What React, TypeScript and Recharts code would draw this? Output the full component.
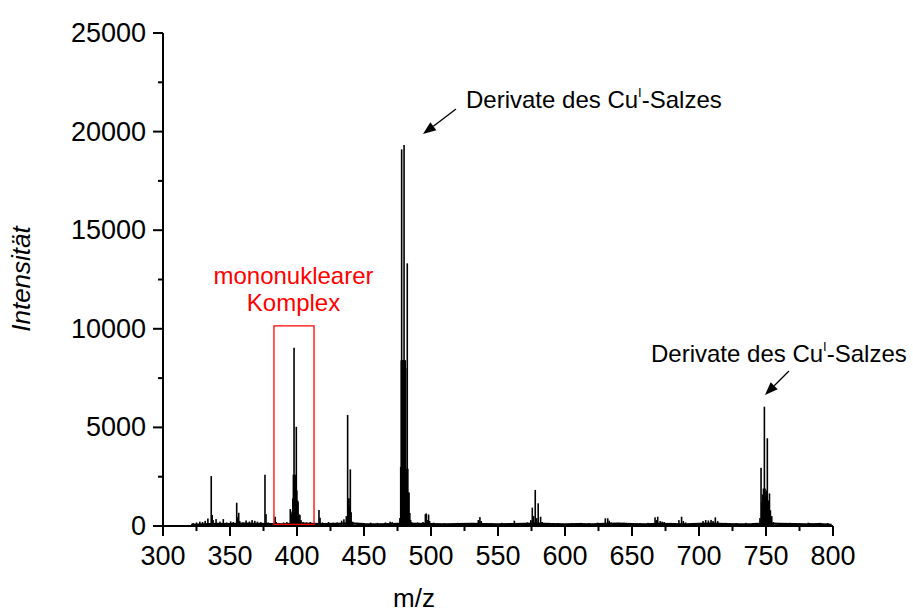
import React from "react";
import {
  ComposedChart,
  Bar,
  Line,
  XAxis,
  YAxis,
  ReferenceArea,
} from "recharts";

// m/z ticks (every 25, labelled every 50) and intensity ticks (every 2500, labelled every 5000)
const xTicks = [300, 325, 350, 375, 400, 425, 450, 475, 500, 525, 550, 575, 600, 625, 650, 675, 700, 725, 750, 775, 800];
const yTicks = [0, 2500, 5000, 7500, 10000, 12500, 15000, 17500, 20000, 22500, 25000];

// noisy baseline under the spectrum: [m/z, intensity]
const baseline: [number, number][] = [
  [321, 60], [330, 90], [340, 110], [350, 100], [360, 120], [370, 110], [380, 100], [390, 90],
  [400, 130], [410, 110], [420, 100], [430, 110], [440, 130], [450, 100], [460, 90], [470, 100],
  [480, 120], [490, 110], [500, 100], [510, 90], [520, 100], [530, 110], [540, 100], [550, 90],
  [560, 100], [570, 110], [580, 120], [590, 100], [600, 90], [610, 100], [620, 90], [630, 110],
  [640, 120], [650, 100], [660, 90], [670, 110], [680, 100], [690, 90], [700, 110], [710, 120],
  [720, 100], [730, 90], [740, 100], [750, 130], [760, 110], [770, 100], [780, 90], [790, 100], [799, 60],
];

const lowMassPeaks: [number, number][] = [
  [322.5, 150], [325, 180], [327.5, 220], [329.5, 200], [331.5, 260], [333.5, 380], [336.0, 2530],
  [336.7, 560], [337.4, 300], [339.6, 350], [342.5, 220], [345.0, 350], [347.5, 180], [350.5, 230],
  [352.5, 200], [355.0, 1180], [355.6, 450], [356.5, 670], [357.3, 250], [359.5, 180], [362.0, 280],
  [364.5, 230], [366.5, 300], [368.5, 260], [370.5, 220], [373.0, 200], [376.1, 2600], [376.9, 600],
  [378.5, 180],
];

const complexPeaks: [number, number][] = [
  [383.7, 470], [384.5, 200], [387, 150], [390, 180], [392.5, 200], [395.0, 860], [395.7, 600],
  [396.3, 730], [396.9, 1400], [397.3, 2600], [397.8, 9040], [398.2, 2600], [398.6, 2600],
  [399.0, 2000], [399.5, 5030], [399.9, 1800], [400.4, 1300], [400.8, 1230], [401.4, 600],
  [402.2, 560], [403.0, 300], [404.5, 200], [407, 180], [410, 200],
];

const midPeaks: [number, number][] = [
  [416.4, 810], [417.2, 420], [419, 180], [423.6, 200], [427, 170], [430, 180], [433.3, 270],
  [435.0, 340], [436.8, 500], [437.8, 5630], [438.3, 1400], [438.8, 1400], [439.3, 1000],
  [439.8, 2870], [440.4, 700], [441.6, 220], [445, 160], [450, 150], [455, 170], [460, 160],
  [466, 180], [469.5, 220], [471, 200],
];

const cuSaltPeaks480: [number, number][] = [
  [476.8, 400], [477.4, 3000], [477.8, 8400], [478.1, 19100], [478.4, 8400], [478.7, 8400],
  [479.0, 8400], [479.3, 8400], [479.6, 8400], [479.9, 19320], [480.2, 8400], [480.5, 8400],
  [480.8, 8400], [481.1, 8000], [481.5, 2900], [481.9, 2400], [482.3, 13320], [482.7, 2900],
  [483.1, 1700], [483.6, 1700], [484.2, 660], [484.8, 300], [485.5, 200],
];

const upperPeaks: [number, number][] = [
  [490, 180], [494, 200], [495.8, 600], [496.5, 640], [497.3, 300], [498.2, 580], [499, 250],
  [502, 170], [510, 150], [520, 160], [528, 150], [535.3, 300], [536.5, 450], [537.5, 250],
  [545, 150], [553, 160], [562.2, 270], [566, 150], [572, 180], [574.5, 300], [575.6, 930],
  [576.6, 500], [577.8, 1830], [578.9, 400], [580.0, 1150], [581.8, 470], [583, 200], [588, 160],
  [595, 150], [605, 150], [612, 160], [618, 150], [624.4, 170], [630.1, 390], [631.9, 390],
  [633.0, 270], [634.5, 180], [640, 160], [642, 150], [644, 160], [650, 150], [656, 150],
  [662, 160], [667.2, 440], [668.2, 300], [669.2, 470], [671, 250], [672.5, 220], [674, 200],
  [679, 160], [685.0, 300], [687.0, 470], [688.3, 250], [690, 180], [696, 150], [703, 250],
  [705, 300], [707, 280], [709, 310], [710.5, 250], [712.2, 440], [714, 250], [720, 160],
  [728, 150], [735, 160], [740, 150],
];

const cuSaltPeaks750: [number, number][] = [
  [745.5, 400], [746.3, 2950], [746.9, 1200], [747.5, 1600], [748.1, 1900], [748.8, 6050],
  [749.3, 1900], [749.9, 1700], [750.5, 1800], [751.0, 4450], [751.6, 1300], [752.1, 1200],
  [752.6, 1650], [753.3, 800], [754.3, 500], [755.5, 200],
];

const tailPeaks: [number, number][] = [
  [762, 150], [768, 160], [775, 150], [781.6, 170], [783, 150], [790, 160], [796, 150],
];

const allPeaks = [
  ...lowMassPeaks,
  ...complexPeaks,
  ...midPeaks,
  ...cuSaltPeaks480,
  ...upperPeaks,
  ...cuSaltPeaks750,
  ...tailPeaks,
];

const chartData = [
  ...baseline.map(([mz, v]) => ({ mz, base: v })),
  ...allPeaks.map(([mz, v]) => ({ mz, peak: v })),
].sort((a, b) => a.mz - b.mz);

const FONT = "'Liberation Sans', Arial, sans-serif";

// each peak is drawn as a 1.6 px stick centred on its m/z position
function Stick(props: any) {
  const { x, y, width, height } = props;
  if (!height || height <= 0 || Number.isNaN(y)) return <g />;
  const cx = x + width / 2;
  return <rect x={cx - 0.8} y={y} width={1.6} height={height} fill="#000" />;
}

function XTick(props: any) {
  const { x, y, payload } = props;
  const major = payload.value % 50 === 0;
  return (
    <g>
      <line x1={x} y1={y} x2={x} y2={y + (major ? 10 : 5)} stroke="#000" strokeWidth={2} />
      {major && (
        <text x={x} y={y + 39} textAnchor="middle" fontSize={27} fill="#000" fontFamily={FONT}>
          {payload.value}
        </text>
      )}
    </g>
  );
}

function YTick(props: any) {
  const { x, y, payload } = props;
  const major = payload.value % 5000 === 0;
  return (
    <g>
      <line x1={x - (major ? 10 : 5)} y1={y} x2={x} y2={y} stroke="#000" strokeWidth={2} />
      {major && (
        <text x={x - 17} y={y + 9} textAnchor="end" fontSize={27} fill="#000" fontFamily={FONT}>
          {payload.value}
        </text>
      )}
    </g>
  );
}

function Arrow({ x1, y1, x2, y2 }: { x1: number; y1: number; x2: number; y2: number }) {
  const ang = Math.atan2(y2 - y1, x2 - x1);
  const len = 13;
  const half = 5;
  const bx = x2 - len * Math.cos(ang);
  const by = y2 - len * Math.sin(ang);
  const px = -Math.sin(ang) * half;
  const py = Math.cos(ang) * half;
  return (
    <g>
      <line x1={x1} y1={y1} x2={bx} y2={by} stroke="#000" strokeWidth={1.3} />
      <polygon points={`${x2},${y2} ${bx + px},${by + py} ${bx - px},${by - py}`} fill="#000" />
    </g>
  );
}

function CuLabel({ x, y }: { x: number; y: number }) {
  return (
    <text x={x} y={y} fontSize={24} fill="#000" fontFamily={FONT}>
      Derivate des Cu
      <tspan fontSize={13} dy={-11}>I</tspan>
      <tspan dy={11}>-Salzes</tspan>
    </text>
  );
}

export default function App() {
  return (
    <div style={{ position: "absolute", left: 0, top: 0, width: 913, height: 615, background: "#fff", fontFamily: FONT }}>
      <ComposedChart
        width={913}
        height={615}
        data={chartData}
        margin={{ top: 33, right: 80, bottom: 49, left: 83 }}
      >
        <XAxis
          type="number"
          dataKey="mz"
          domain={[300, 800]}
          ticks={xTicks}
          interval={0}
          allowDataOverflow
          tickLine={false}
          tickSize={0}
          tickMargin={0}
          tick={<XTick />}
          axisLine={{ stroke: "#000", strokeWidth: 2 }}
          height={40}
        />
        <YAxis
          type="number"
          domain={[0, 25000]}
          ticks={yTicks}
          interval={0}
          allowDataOverflow
          tickLine={false}
          tickSize={0}
          tickMargin={0}
          tick={<YTick />}
          axisLine={{ stroke: "#000", strokeWidth: 2 }}
          width={80}
        />
        <Bar dataKey="peak" fill="#000" barSize={1.3} shape={<Stick />} isAnimationActive={false} />
        <Line
          dataKey="base"
          stroke="#000"
          strokeWidth={2.2}
          dot={false}
          connectNulls
          isAnimationActive={false}
        />
        <ReferenceArea
          x1={382.8}
          x2={412.7}
          y1={80}
          y2={10150}
          stroke="#ff0000"
          strokeWidth={1.3}
          fill="none"
          fillOpacity={0}
          zIndex={1000}
        />
      </ComposedChart>
      <svg
        width={913}
        height={615}
        style={{ position: "absolute", left: 0, top: 0, pointerEvents: "none" }}
      >
        <text
          transform="translate(30, 279) rotate(-90)"
          textAnchor="middle"
          fontSize={26}
          fontStyle="italic"
          fill="#000"
          fontFamily={FONT}
        >
          Intensität
        </text>
        <text x={414} y={607} textAnchor="middle" fontSize={26} fill="#000" fontFamily={FONT}>
          m/z
        </text>
        <text x={293.5} y={284} textAnchor="middle" fontSize={24} fill="#ff0000" fontFamily={FONT}>
          mononuklearer
        </text>
        <text x={293.5} y={311} textAnchor="middle" fontSize={24} fill="#ff0000" fontFamily={FONT}>
          Komplex
        </text>
        <CuLabel x={466} y={108} />
        <Arrow x1={456} y1={109} x2={423} y2={134} />
        <CuLabel x={651} y={362} />
        <Arrow x1={789} y1={371} x2={765} y2={395} />
      </svg>
    </div>
  );
}
